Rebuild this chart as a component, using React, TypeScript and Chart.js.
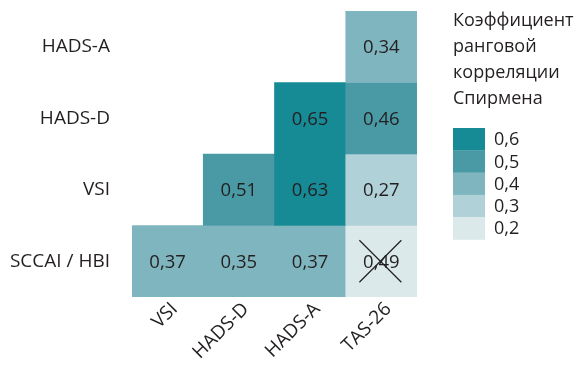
import { useEffect, useRef } from "react";
import { Chart, registerables } from "chart.js";

Chart.register(...registerables);

// Heatmap of Spearman rank correlations (lower-left triangle of the matrix)
const columnLabels = ["VSI", "HADS-D", "HADS-A", "TAS-26"];
const rowLabels = ["HADS-A", "HADS-D", "VSI", "SCCAI / HBI"];

const rhoHadsA: (number | null)[] = [null, null, null, 0.34];
const rhoHadsD: (number | null)[] = [null, null, 0.65, 0.46];
const rhoVsi: (number | null)[] = [null, 0.51, 0.63, 0.27];
const rhoSccaiHbi: (number | null)[] = [0.37, 0.35, 0.37, 0.49];

// true where the correlation is not significant (crossed out)
const nsHadsA = [false, false, false, false];
const nsHadsD = [false, false, false, false];
const nsVsi = [false, false, false, false];
const nsSccaiHbi = [false, false, false, true];

const legendTitle = ["Коэффициент", "ранговой", "корреляции", "Спирмена"];
const legendLevels = [0.6, 0.5, 0.4, 0.3, 0.2];
const legendColors = ["#168a95", "#4a9aa5", "#7fb5be", "#b0d1d8", "#dbe9ea"];
// lower bounds of the colour classes 0.6, 0.5, 0.4, 0.3
const classBreaks = [0.55, 0.45, 0.33, 0];

const FONT = "'Open Sans', 'Noto Sans', sans-serif";
const TEXT = "#231f20";

const rowValues = [rhoHadsA, rhoHadsD, rhoVsi, rhoSccaiHbi];
const rowNs = [nsHadsA, nsHadsD, nsVsi, nsSccaiHbi];

function colourFor(value: number, ns: boolean): string {
  if (ns) return legendColors[legendColors.length - 1];
  for (let i = 0; i < classBreaks.length; i++) {
    if (value >= classBreaks[i]) return legendColors[i];
  }
  return legendColors[legendColors.length - 1];
}

const fmt = (v: number) => v.toFixed(2).replace(".", ",");

const cellLabels = {
  id: "cellLabels",
  afterDatasetsDraw(chart: any) {
    const ctx = chart.ctx;
    ctx.save();
    ctx.font = `18.5px ${FONT}`;
    ctx.fillStyle = TEXT;
    ctx.strokeStyle = TEXT;
    ctx.textAlign = "center";
    ctx.textBaseline = "middle";
    chart.data.datasets.forEach((ds: any, di: number) => {
      const meta = chart.getDatasetMeta(di);
      meta.data.forEach((el: any, i: number) => {
        const v = ds.rho[i];
        if (v == null) return;
        const { x, y } = el.getCenterPoint();
        ctx.fillText(fmt(v), x, y + 1);
        if (ds.ns[i]) {
          ctx.lineWidth = 1.2;
          ctx.beginPath();
          ctx.moveTo(x - 22, y - 21);
          ctx.lineTo(x + 20, y + 21);
          ctx.moveTo(x + 20, y - 21);
          ctx.lineTo(x - 22, y + 21);
          ctx.stroke();
        }
      });
    });
    ctx.restore();
  },
};

const colourLegend = {
  id: "colourLegend",
  afterDraw(chart: any) {
    const ctx = chart.ctx;
    const left = chart.chartArea.right + 36;
    ctx.save();
    ctx.font = `18px ${FONT}`;
    ctx.fillStyle = TEXT;
    ctx.textAlign = "left";
    ctx.textBaseline = "middle";
    legendTitle.forEach((line, i) => ctx.fillText(line, left, 21 + i * 26));
    const boxTop = 128;
    const boxH = 22.3;
    legendLevels.forEach((lvl, i) => {
      ctx.fillStyle = legendColors[i];
      ctx.fillRect(left, boxTop + i * boxH, 32, boxH + 0.3);
      ctx.fillStyle = TEXT;
      ctx.fillText(lvl.toFixed(1).replace(".", ","), left + 41, boxTop + i * boxH + boxH / 2 + 1);
    });
    ctx.restore();
  },
};

export default function App() {
  const ref = useRef<HTMLCanvasElement | null>(null);

  useEffect(() => {
    if (!ref.current) return;
    const datasets = rowValues.map((vals, r) => ({
      label: rowLabels[r],
      data: vals.map((v) => (v == null ? null : [r - 0.5, r + 0.5])),
      rho: vals,
      ns: rowNs[r],
      backgroundColor: vals.map((v, i) => (v == null ? "transparent" : colourFor(v, rowNs[r][i]))),
      borderWidth: 0,
      grouped: false,
      barPercentage: 1,
      categoryPercentage: 1,
    }));

    const chart = new Chart(ref.current, {
      type: "bar",
      data: { labels: columnLabels, datasets: datasets as any },
      plugins: [cellLabels, colourLegend],
      options: {
        animation: false,
        responsive: false,
        devicePixelRatio: 1,
        layout: { padding: { top: 11, right: 165, left: 0, bottom: 0 } },
        plugins: { legend: { display: false }, tooltip: { enabled: false } },
        scales: {
          x: {
            type: "category",
            grid: { display: false, drawTicks: false },
            border: { display: false },
            ticks: {
              color: TEXT,
              font: { family: FONT, size: 19 },
              minRotation: 45,
              maxRotation: 45,
              padding: 1,
              labelOffset: 7,
            },
            afterFit(scale: any) {
              scale.height = 74;
              scale.paddingLeft = 0;
              scale.paddingRight = 0;
              scale.paddingTop = 0;
              scale.paddingBottom = 0;
            },
          },
          y: {
            type: "linear",
            reverse: true,
            min: -0.5,
            max: 3.5,
            grid: { display: false, drawTicks: false },
            border: { display: false },
            afterBuildTicks(scale: any) {
              scale.ticks = rowLabels.map((_, i) => ({ value: i }));
            },
            ticks: {
              color: TEXT,
              font: { family: FONT, size: 19 },
              padding: 22,
              callback: (v: any) => rowLabels[Number(v)] ?? "",
            },
            afterFit(scale: any) {
              scale.width = 132;
              scale.paddingTop = 0;
              scale.paddingBottom = 0;
              scale.paddingLeft = 0;
              scale.paddingRight = 0;
            },
          },
        },
      },
    });
    return () => chart.destroy();
  }, []);

  return (
    <div style={{ position: "fixed", left: 0, top: 0, width: 582, height: 371, background: "#fff" }}>
      <canvas ref={ref} width={582} height={371} />
    </div>
  );
}
